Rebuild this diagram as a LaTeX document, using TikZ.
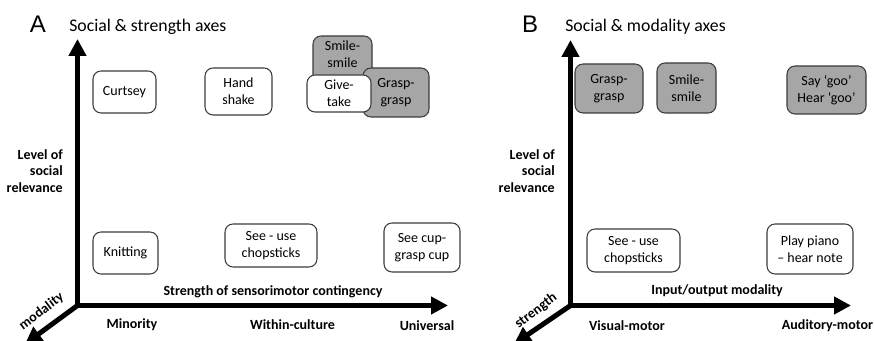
\documentclass[tikz,border=0pt]{standalone}
\usepackage{fontspec}
\setmainfont{Carlito}
\newfontfamily\letterfont{Liberation Sans}
\usetikzlibrary{arrows.meta}
\definecolor{boxgray}{RGB}{166,166,166}
\definecolor{boxedge}{RGB}{60,60,60}
\begin{document}
\begin{tikzpicture}[x=0.75pt,y=-0.75pt,
  box/.style={draw=boxedge, line width=0.8pt, rounded corners=6pt, align=center,
    font=\fontsize{10.5}{12.8}\selectfont, inner sep=0pt},
  whitebox/.style={box, fill=white},
  graybox/.style={box, fill=boxgray},
  axis/.style={line width=3.75pt, -{Triangle[length=12.75pt,width=12.75pt]}},
  axlabel/.style={font=\bfseries\fontsize{10.5}{12.2}\selectfont, inner sep=0pt},
  paneltitle/.style={font=\fontsize{13.3}{15}\selectfont, anchor=west, inner sep=0pt},
  letter/.style={font=\letterfont\fontsize{18}{20}\selectfont, inner sep=0pt}]
\useasboundingbox (0,0) rectangle (874,341);

% ---------- Panel A ----------
\node[letter] (letA) at (38,24) {A};
\node[paneltitle] (titA) at (69,27) {Social \& strength axes};

\coordinate (oA) at (77.5,305.5);
\coordinate (upA) at (77.5,39);
\coordinate (rtA) at (448,305.5);
\coordinate (dgA) at (25,344);
\draw[axis, line cap=rect] (oA) -- (upA);
\draw[axis, line cap=rect] (oA) -- (rtA);
\draw[axis] (oA) -- (dgA);

\node[whitebox, minimum width=47.25pt, minimum height=31.5pt] (curtsey) at (124.5,92) {Curtsey};
\node[whitebox, minimum width=50.25pt, minimum height=35.25pt] (hand) at (238.5,91.5) {Hand\\shake};
\node[graybox, minimum width=44.25pt, minimum height=37.5pt, text depth=10pt] (smileA) at (342.5,61) {Smile-\\smile};
\node[graybox, minimum width=49.5pt, minimum height=36.75pt] (graspA) at (396,92.5) {Grasp-\\grasp};
\node[whitebox, minimum width=48pt, minimum height=27.75pt] (give) at (339,93.5) {Give-\\take};
\node[whitebox, minimum width=48.75pt, minimum height=31.5pt] (knit) at (125.5,253) {Knitting};
\node[whitebox, minimum width=69pt, minimum height=32.25pt] (chopA) at (271,245.5) {See - use\\chopsticks};
\node[whitebox, minimum width=57pt, minimum height=36.75pt] (cup) at (422,247.5) {See cup-\\grasp cup};

\node[axlabel, align=right, anchor=east] (levA) at (63,171) {Level of\\social\\relevance};
\node[axlabel] (strA) at (273,291.5) {Strength of sensorimotor contingency};
\node[axlabel] (minA) at (132,325) {Minority};
\node[axlabel] (witA) at (292.5,325) {Within-culture};
\node[axlabel] (uniA) at (427,326) {Universal};
\node[axlabel, rotate=37] (modA) at (41.5,311.5) {modality};

% ---------- Panel B ----------
\node[letter] (letB) at (530,24) {B};
\node[paneltitle] (titB) at (565,27) {Social \& modality axes};

\coordinate (oB) at (570.5,305.5);
\coordinate (upB) at (570.5,40);
\coordinate (rtB) at (851,305.5);
\coordinate (dgB) at (514,344);
\draw[axis, line cap=rect] (oB) -- (upB);
\draw[axis, line cap=rect] (oB) -- (rtB);
\draw[axis] (oB) -- (dgB);

\node[graybox, minimum width=51pt, minimum height=36.75pt] (graspB) at (609,88.5) {Grasp-\\grasp};
\node[graybox, minimum width=44.25pt, minimum height=37.5pt] (smileB) at (686.5,88) {Smile-\\smile};
\node[graybox, minimum width=59.25pt, minimum height=36pt] (goo) at (826.5,90) {Say ‘goo’\\Hear ‘goo’};
\node[whitebox, minimum width=69.75pt, minimum height=32.25pt] (chopB) at (633.5,250.5) {See - use\\chopsticks};
\node[whitebox, minimum width=64.5pt, minimum height=37.5pt] (piano) at (810,249) {Play piano\\– hear note};

\node[axlabel, align=right, anchor=east] (levB) at (555,171) {Level of\\social\\relevance};
\node[axlabel] (ioB) at (717,291) {Input/output modality};
\node[axlabel] (visB) at (627,326) {Visual-motor};
\node[axlabel] (audB) at (827.5,326) {Auditory-motor};
\node[axlabel, rotate=37] (strB) at (536,311) {strength};
\end{tikzpicture}
\end{document}
